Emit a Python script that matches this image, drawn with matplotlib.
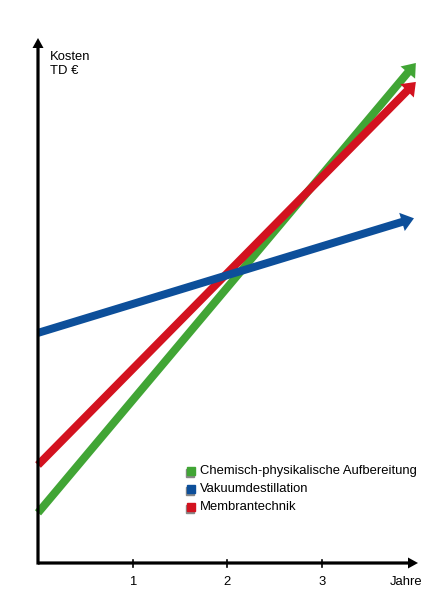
import matplotlib
matplotlib.use('Agg')
import matplotlib.pyplot as plt
from matplotlib.patches import Rectangle

# Jahre (x) und Kosten (y, relative Einheiten) an Start und Spitze der Pfeile
namen = ['Chemisch-physikalische Aufbereitung', 'Vakuumdestillation', 'Membrantechnik']
jahre_start = [0.0, 0.0, 0.0]
jahre_ende = [3.99, 3.97, 3.99]
kosten_start = [0.53, 2.43, 1.035]
kosten_ende = [5.28, 3.64, 5.08]
farben = ['#41a535', '#0d4f9a', '#d3121f']
ticks = [1, 2, 3]

px = 94.7  # Pixel pro Einheit
fig = plt.figure(figsize=(4.48, 6), dpi=100)
ax = fig.add_axes([0, 0, 1, 1])
ax.set_xlim(-38 / px, 410 / px)
ax.set_ylim(-37 / px, 563 / px)
ax.axis('off')

schrift = dict(fontsize=9.4, family='Liberation Sans')

# Reihenfolge: gruen, rot, blau (blau oben)
for z, i in enumerate([0, 2, 1]):
    ax.arrow(jahre_start[i], kosten_start[i],
             jahre_ende[i] - jahre_start[i], kosten_ende[i] - kosten_start[i],
             width=8 / px, head_width=19 / px, head_length=12.5 / px,
             length_includes_head=True, color=farben[i], lw=0, zorder=2 + z)

# Achsen
ax.arrow(0, 0, 380 / px, 0, width=3.2 / px, head_width=11 / px, head_length=10 / px,
         length_includes_head=True, color='black', lw=0, zorder=6)
ax.arrow(0, -1.6 / px, 0, (525 + 1.6) / px, width=3.2 / px, head_width=11 / px,
         head_length=10 / px, length_includes_head=True, color='black', lw=0, zorder=6)
for t in ticks:
    ax.plot([t, t], [-3.5 / px, 3.5 / px], color='black', lw=1.2, zorder=7)
    ax.text(t, -19 / px, str(t), ha='center', va='center', **schrift)
ax.text(3.886, -19 / px, 'Jahre', ha='center', va='center', **schrift)
ax.text(12 / px, 499 / px, 'Kosten\nTD €', ha='left', va='center', linespacing=1.3, **schrift)

# Legende
for j, name in enumerate(namen):
    y = (92 - j * 18) / px
    ax.add_patch(Rectangle((147.5 / px, y - 5.5 / px), 8 / px, 8 / px, color='#888888', zorder=8))
    ax.add_patch(Rectangle((149 / px, y - 4 / px), 8 / px, 8 / px, color=farben[j], zorder=9))
    ax.text(162 / px, y, name, ha='left', va='center', **schrift)

fig.savefig('out.png', dpi=100)
